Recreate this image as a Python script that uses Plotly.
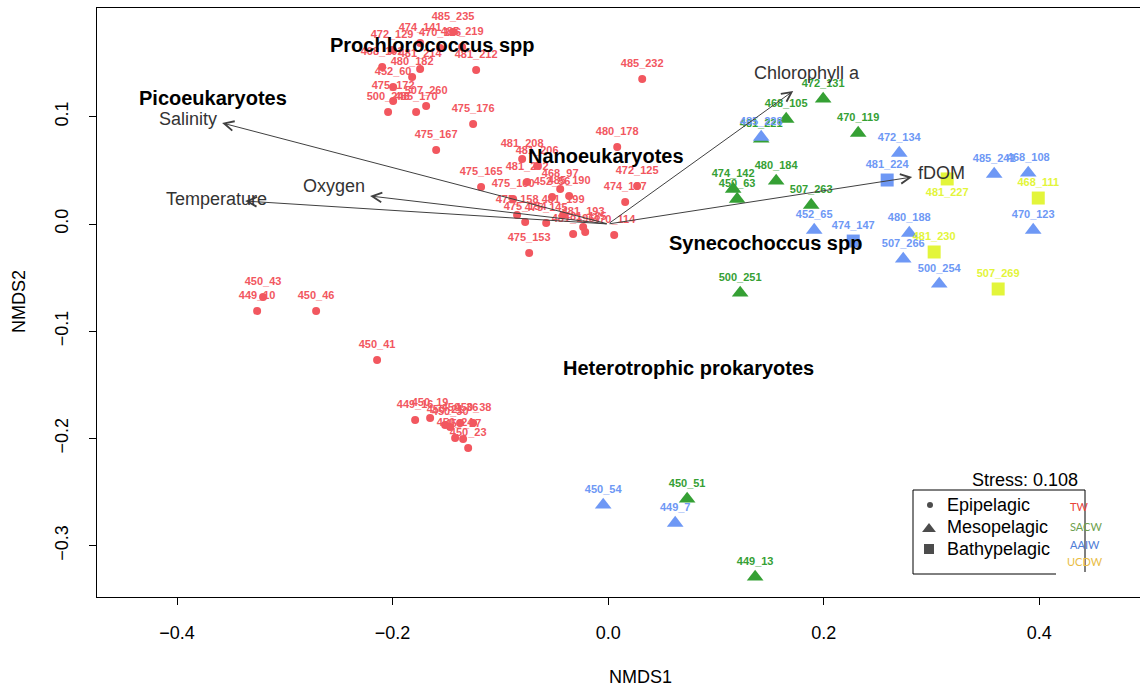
import plotly.graph_objects as go

# ---------------- data (NMDS scores) ----------------
tw_labels = ["485_235", "474_141", "472_129", "470_116", "485_219", "468_102", "481_214",
             "480_182", "481_212", "452_60", "475_172", "507_260", "500_248", "485_170",
             "475_176", "475_167", "485_232", "480_178", "472_125", "474_137", "481_208",
             "481_206", "481_202", "475_165", "468_97", "452_56", "485_190", "475_160",
             "475_158", "481_199", "475_154", "475_145", "481_193", "481_185", "481_196",
             "470_114", "475_153", "450_43", "449_10", "450_46", "450_41", "449_16",
             "450_19", "450_21", "450_30", "450_36", "450_38", "450_24", "450_27", "450_23"]
tw_x = [-0.1439, -0.1745, -0.2005, -0.1559, -0.1355, -0.2097, -0.1745,
        -0.1819, -0.1225, -0.1995, -0.1995, -0.1689, -0.2042, -0.1782,
        -0.1253, -0.1596, 0.0316, 0.0084, 0.0269, 0.0158, -0.0798,
        -0.0659, -0.0752, -0.1179, -0.0445, -0.0520, -0.0362, -0.0882,
        -0.0845, -0.0418, -0.0770, -0.0575, -0.0232, -0.0213, -0.0325,
        0.0056, -0.0733, -0.3202, -0.3257, -0.2710, -0.2144, -0.1791,
        -0.1652, -0.1513, -0.1466, -0.1374, -0.1253, -0.1420, -0.1346, -0.1299]
tw_y = [0.1790, 0.1688, 0.1622, 0.1641, 0.1650, 0.1464, 0.1445,
        0.1371, 0.1436, 0.1277, 0.1147, 0.1100, 0.1044, 0.1044,
        0.0932, 0.0690, 0.1352, 0.0718, 0.0354, 0.0205, 0.0606,
        0.0541, 0.0392, 0.0345, 0.0326, 0.0252, 0.0261, 0.0233,
        0.0084, 0.0084, 0.0019, 0.0009, -0.0028, -0.0075, -0.0093,
        -0.0103, -0.0270, -0.0681, -0.0811, -0.0811, -0.1268, -0.1828,
        -0.1809, -0.1874, -0.1893, -0.1855, -0.1855, -0.1995, -0.2005, -0.2089]

sacw_labels = ["472_131", "468_105", "470_119", "481_221", "474_142", "450_63",
               "480_184", "507_263", "500_251", "450_51", "449_13"]
sacw_x = [0.1995, 0.1652, 0.2320, 0.1420, 0.1160, 0.1197, 0.1559, 0.1884, 0.1225, 0.0733, 0.1364]
sacw_y = [0.1166, 0.0979, 0.0848, 0.0793, 0.0326, 0.0233, 0.0401, 0.0177, -0.0643, -0.2564, -0.3291]

aaiw_meso_labels = ["485_228", "472_134", "485_241", "468_108", "470_123", "480_188",
                    "507_266", "500_254", "452_65", "450_54", "449_7"]
aaiw_meso_x = [0.1420, 0.2701, 0.3582, 0.3898, 0.3944, 0.2794, 0.2738, 0.3072, 0.1912, -0.0046, 0.0622]
aaiw_meso_y = [0.0811, 0.0662, 0.0466, 0.0476, -0.0056, -0.0084, -0.0326, -0.0559, -0.0056, -0.2620, -0.2788]

aaiw_bathy_labels = ["481_224", "474_147"]
aaiw_bathy_x = [0.2589, 0.2274]
aaiw_bathy_y = [0.0410, -0.0159]

ucdw_labels = ["481_227", "468_111", "481_230", "507_269"]
ucdw_x = [0.3146, 0.3991, 0.3025, 0.3619]
ucdw_y = [0.0420, 0.0242, -0.0261, -0.0606]

# environmental vectors (envfit arrows)
env_names = ["Chlorophyll a", "fDOM", "Salinity", "Temperature", "Oxygen"]
env_x = [0.1717, 0.2821, -0.3582, -0.3369, -0.2209]
env_y = [0.1240, 0.0438, 0.0942, 0.0214, 0.0261]
env_lab_x = [0.1847, 0.3090, -0.3898, -0.3638, -0.2543]
env_lab_y = [0.1408, 0.0476, 0.0979, 0.0233, 0.0354]

# taxa (species scores)
taxa_names = ["Prochlorococcus spp", "Picoeukaryotes", "Nanoeukaryotes",
              "Synecochoccus spp", "Heterotrophic prokaryotes"]
taxa_x = [-0.1633, -0.3666, -0.0019, 0.1457, 0.0742]
taxa_y = [0.1669, 0.1175, 0.0634, -0.0177, -0.1343]

stress_text = "Stress: 0.108"
legend_depth = ["Epipelagic", "Mesopelagic", "Bathypelagic"]
legend_mass = ["TW", "SACW", "AAIW", "UCDW"]

x_ticks = [-0.4, -0.2, 0.0, 0.2, 0.4]
y_ticks = [-0.3, -0.2, -0.1, 0.0, 0.1]

# ---------------- style ----------------
RED = "#F2575F"
GREEN = "#35A034"
BLUE = "#6E98F5"
YELLOW = "#E3F53A"
FONT = "Liberation Sans"

W, H = 1140, 689
ML, MR, MT, MB = 97, 0, 8, 92
XR = [-0.4743, 0.4935]
YR = [-0.3478, 0.2014]
PW, PH = W - ML - MR, H - MT - MB


def pxx(p):  # pixel -> paper x
    return (p - ML) / PW


def pxy(p):  # pixel -> paper y
    return (H - MB - p) / PH


def dxx(p):  # pixel -> data x
    return XR[0] + (p - ML) / PW * (XR[1] - XR[0])


def dyy(p):  # pixel -> data y
    return YR[0] + (H - MB - p) / PH * (YR[1] - YR[0])


LOFF = 14.5 / PH * (YR[1] - YR[0])  # label offset above points

fig = go.Figure()


def add_group(labels, xs, ys, color, symbol, size, below=()):
    fig.add_trace(go.Scatter(x=xs, y=ys, mode="markers",
                             marker=dict(color=color, symbol=symbol, size=size, line=dict(width=0)),
                             hoverinfo="skip", showlegend=False))
    ly = [y - LOFF if lab in below else y + LOFF for lab, y in zip(labels, ys)]
    fig.add_trace(go.Scatter(x=xs, y=ly, mode="text",
                             text=["<b>%s</b>" % t for t in labels],
                             textposition="middle center",
                             textfont=dict(family=FONT, size=11, color=color),
                             hoverinfo="skip", showlegend=False))


add_group(tw_labels, tw_x, tw_y, RED, "circle", 8)
add_group(sacw_labels, sacw_x, sacw_y, GREEN, "triangle-up", 14.5)
add_group(aaiw_meso_labels, aaiw_meso_x, aaiw_meso_y, BLUE, "triangle-up", 14.5)
add_group(aaiw_bathy_labels, aaiw_bathy_x, aaiw_bathy_y, BLUE, "square", 13)
add_group(ucdw_labels, ucdw_x, ucdw_y, YELLOW, "square", 13, below=("481_227",))

annotations = []
# arrows
for name, x, y, lx, ly in zip(env_names, env_x, env_y, env_lab_x, env_lab_y):
    annotations.append(dict(x=x, y=y, ax=0, ay=0, xref="x", yref="y", axref="x", ayref="y",
                            text="", showarrow=True, arrowhead=5, arrowsize=1.9,
                            arrowwidth=1, arrowcolor="#404040", standoff=0))
    annotations.append(dict(x=lx, y=ly, xref="x", yref="y", text=name, showarrow=False,
                            xanchor="center", yanchor="middle",
                            font=dict(family=FONT, size=18, color="#333333")))
# taxa
for name, x, y in zip(taxa_names, taxa_x, taxa_y):
    annotations.append(dict(x=x, y=y, xref="x", yref="y", text="<b>%s</b>" % name,
                            showarrow=False, xanchor="center", yanchor="middle",
                            font=dict(family=FONT, size=20, color="black")))


def paper_text(px, py, text, size=18, color="black", xanchor="center", angle=0, family=FONT):
    annotations.append(dict(x=pxx(px), y=pxy(py), xref="paper", yref="paper", text=text,
                            xanchor=xanchor, yanchor="middle", textangle=angle,
                            showarrow=False, font=dict(family=family, size=size, color=color)))


# axis titles
paper_text(640, 677, "NMDS1")
paper_text(19, 302, "NMDS2", angle=-90)

# legend
paper_text(1025, 480, stress_text)
for i, t in enumerate(legend_depth):
    paper_text(945, 505 + 22 * i, t, xanchor="left")
mass_colors = ["#E8443A", "#6E9F4E", "#4F7CD6", "#E9BD45"]
mass_px = [1079, 1086, 1085, 1085]
mass_py = [506, 526, 544, 561]
for t, c, px, py in zip(legend_mass, mass_colors, mass_px, mass_py):
    paper_text(px, py, t, size=11, color=c, family="Lato")

fig.add_trace(go.Scatter(x=[dxx(930), dxx(929), dxx(929)],
                         y=[dyy(505), dyy(529), dyy(549)], mode="markers",
                         marker=dict(color="black", symbol=["circle", "triangle-up", "square"],
                                     size=[6, 12, 10], line=dict(width=0)),
                         cliponaxis=False, hoverinfo="skip", showlegend=False))

shapes = []
lb = dict(color="black", width=1)
shapes.append(dict(type="line", xref="paper", yref="paper", x0=pxx(913), x1=pxx(1085),
                   y0=pxy(490), y1=pxy(490), line=lb))
shapes.append(dict(type="line", xref="paper", yref="paper", x0=pxx(913), x1=pxx(913),
                   y0=pxy(490), y1=pxy(574), line=lb))
shapes.append(dict(type="line", xref="paper", yref="paper", x0=pxx(1085), x1=pxx(1085),
                   y0=pxy(490), y1=pxy(572), line=lb))
shapes.append(dict(type="line", xref="paper", yref="paper", x0=pxx(913), x1=pxx(1056),
                   y0=pxy(574), y1=pxy(574), line=lb))

axis_common = dict(showline=True, mirror=True, linecolor="black", linewidth=1,
                   ticks="outside", ticklen=7, tickcolor="black", tickwidth=1,
                   showgrid=False, zeroline=False,
                   tickfont=dict(family=FONT, size=18, color="black"))

fig.update_layout(
    width=W, height=H,
    margin=dict(l=ML, r=MR, t=MT, b=MB),
    paper_bgcolor="white", plot_bgcolor="white",
    xaxis=dict(range=XR, tickvals=x_ticks, ticktext=["\u22120.4", "\u22120.2", "0.0", "0.2", "0.4"],
               ticklabelstandoff=12, **axis_common),
    yaxis=dict(range=YR, tickvals=y_ticks, ticktext=["\u22120.3", "\u22120.2", "\u22120.1", "0.0", "0.1"],
               tickangle=-90, ticklabelstandoff=14, **axis_common),
    annotations=annotations, shapes=shapes,
    showlegend=False,
)

fig.write_html("out.html")
